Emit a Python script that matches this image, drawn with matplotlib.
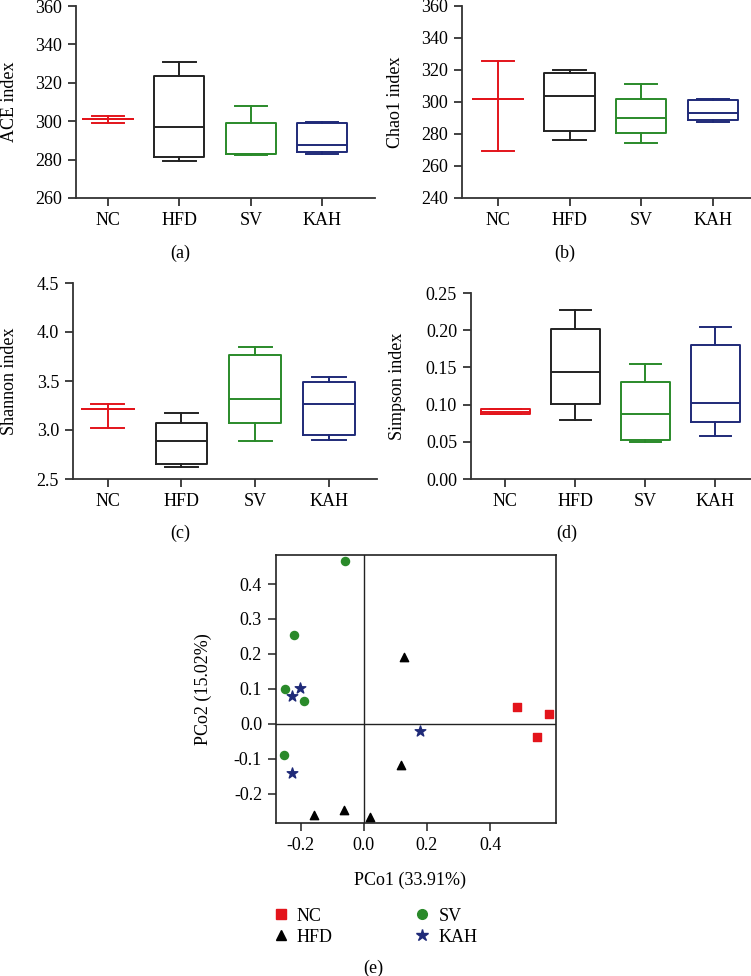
import numpy as np
import matplotlib
matplotlib.use("Agg")
import matplotlib.pyplot as plt
from matplotlib.lines import Line2D

plt.rcParams['font.family'] = ['Liberation Serif', 'DejaVu Serif']
plt.rcParams['font.size'] = 13

W, H = 751, 976

groups = ['NC', 'HFD', 'SV', 'KAH']
colors = ['#e3141b', '#222222', '#2a8a2a', '#1f2a78']

# box plot summaries (min, q1, median, q3, max)
ace_min = [299.0, 279.1, 282.4, 282.9]
ace_q1 = [301.0, 281.2, 283.0, 283.8]
ace_med = [301.0, 297.1, 283.1, 287.4]
ace_q3 = [301.0, 323.4, 299.0, 299.3]
ace_max = [302.7, 330.7, 308.0, 299.8]

chao_min = [269.4, 276.3, 274.2, 287.5]
chao_q1 = [301.9, 281.7, 280.6, 288.8]
chao_med = [301.9, 303.5, 289.8, 293.3]
chao_q3 = [301.9, 318.3, 302.1, 301.5]
chao_max = [325.8, 319.8, 311.5, 302.1]

shan_min = [3.017, 2.62, 2.89, 2.90]
shan_q1 = [3.21, 2.657, 3.075, 2.95]
shan_med = [3.21, 2.89, 3.314, 3.27]
shan_q3 = [3.21, 3.068, 3.77, 3.487]
shan_max = [3.263, 3.17, 3.846, 3.542]

simp_min = [0.0875, 0.0794, 0.0495, 0.0576]
simp_q1 = [0.0875, 0.1013, 0.0522, 0.0765]
simp_med = [0.0906, 0.144, 0.0876, 0.1027]
simp_q3 = [0.0938, 0.202, 0.131, 0.180]
simp_max = [0.0938, 0.227, 0.154, 0.2037]

# PCoA coordinates
nc_x = [0.486, 0.586, 0.548]
nc_y = [0.047, 0.029, -0.039]
hfd_x = [0.128, 0.119, -0.158, -0.0625, 0.021]
hfd_y = [0.190, -0.119, -0.260, -0.246, -0.267]
sv_x = [-0.060, -0.222, -0.249, -0.190, -0.254]
sv_y = [0.465, 0.253, 0.100, 0.066, -0.089]
kah_x = [-0.228, -0.203, 0.177, -0.228]
kah_y = [0.080, 0.102, -0.020, -0.142]


def px_axes(l, t, r, b):
    return fig.add_axes([l / W, 1 - b / H, (r - l) / W, (b - t) / H])


def box_panel(ax, lo, q1, med, q3, hi, ylim, yticks, fmt, xlim):
    for i in range(len(groups)):
        st = [dict(whislo=lo[i], q1=q1[i], med=med[i], q3=q3[i], whishi=hi[i], fliers=[])]
        c = colors[i]
        ax.bxp(st, positions=[i], widths=0.7, capwidths=0.45, showfliers=False,
               boxprops=dict(color=c, linewidth=1.4),
               whiskerprops=dict(color=c, linewidth=1.4),
               capprops=dict(color=c, linewidth=1.4),
               medianprops=dict(color=c, linewidth=1.4))
    ax.set_xlim(*xlim)
    ax.set_ylim(*ylim)
    ax.set_yticks(yticks)
    ax.set_yticklabels([fmt % v for v in yticks])
    ax.set_xticks(range(len(groups)))
    ax.set_xticklabels(groups)
    for s in ['top', 'right']:
        ax.spines[s].set_visible(False)
    for s in ['left', 'bottom']:
        ax.spines[s].set_linewidth(1.3)
        ax.spines[s].set_color('#333333')
    ax.tick_params(length=6, width=1.3, color='#333333', labelsize=13, pad=4)


fig = plt.figure(figsize=(W / 100, H / 100), dpi=100)

ax_a = px_axes(76, 6, 375, 198)
box_panel(ax_a, ace_min, ace_q1, ace_med, ace_q3, ace_max, (260, 360),
          np.arange(260, 361, 20), '%d', (-0.45, 3.74))
ax_b = px_axes(462, 6, 751, 198)
box_panel(ax_b, chao_min, chao_q1, chao_med, chao_q3, chao_max, (240, 360),
          np.arange(240, 361, 20), '%d', (-0.5, 3.53))
ax_c = px_axes(73, 283, 377, 479)
box_panel(ax_c, shan_min, shan_q1, shan_med, shan_q3, shan_max, (2.5, 4.5),
          np.arange(2.5, 4.51, 0.5), '%.1f', (-0.47, 3.65))
ax_d = px_axes(471, 293, 751, 479)
box_panel(ax_d, simp_min, simp_q1, simp_med, simp_q3, simp_max, (0, 0.25),
          np.arange(0, 0.251, 0.05), '%.2f', (-0.49, 3.51))

for (x, y, t) in [(10, 102, 'ACE index'), (395, 102, 'Chao1 index'),
                  (10, 381, 'Shannon index'), (397, 386, 'Simpson index'),
                  (203, 689, 'PCo2 (15.02%)')]:
    fig.text(x / W, 1 - y / H, t, rotation=90, ha='center', va='center', fontsize=13)

for (x, y, t) in [(180, 253, '(a)'), (565, 253, '(b)'), (180, 533, '(c)'),
                  (567, 533, '(d)'), (373, 968, '(e)'), (410, 880, 'PCo1 (33.91%)')]:
    fig.text(x / W, 1 - y / H, t, ha='center', va='center', fontsize=13)

# PCoA panel
ax_e = px_axes(276, 555, 556, 823)
ax_e.axhline(0, color='#222222', linewidth=1.0, zorder=1)
ax_e.axvline(0, color='#222222', linewidth=1.0, zorder=1)
ax_e.scatter(nc_x, nc_y, marker='s', s=36, color=colors[0], zorder=3)
ax_e.scatter(hfd_x, hfd_y, marker='^', s=36, color='black', zorder=3)
ax_e.scatter(sv_x, sv_y, marker='o', s=34, color=colors[2], zorder=3)
ax_e.scatter(kah_x, kah_y, marker='*', s=64, color=colors[3], zorder=3)
ax_e.set_xlim(-0.278, 0.609)
ax_e.set_ylim(-0.284, 0.483)
ax_e.set_xticks([-0.2, 0.0, 0.2, 0.4])
ax_e.set_yticks([-0.2, -0.1, 0.0, 0.1, 0.2, 0.3, 0.4])
ax_e.xaxis.set_major_formatter(matplotlib.ticker.FormatStrFormatter('%.1f'))
ax_e.yaxis.set_major_formatter(matplotlib.ticker.FormatStrFormatter('%.1f'))
for s in ax_e.spines.values():
    s.set_linewidth(1.2)
    s.set_color('#222222')
ax_e.tick_params(length=6, width=1.2, color='#333333', labelsize=13, pad=4)

handles = [Line2D([], [], marker='s', ls='none', color=colors[0], markersize=7),
           Line2D([], [], marker='^', ls='none', color='black', markersize=7),
           Line2D([], [], marker='o', ls='none', color=colors[2], markersize=7),
           Line2D([], [], marker='*', ls='none', color=colors[3], markersize=9)]
fig.legend(handles, ['NC', 'HFD', 'SV', 'KAH'], ncol=2, frameon=False,
           loc='upper left', bbox_to_anchor=(255.5 / W, 1 - 891.5 / H),
           handlelength=1.0, handletextpad=0.39, columnspacing=4.45,
           labelspacing=0.22, fontsize=13)

fig.savefig('out.png', dpi=100)
